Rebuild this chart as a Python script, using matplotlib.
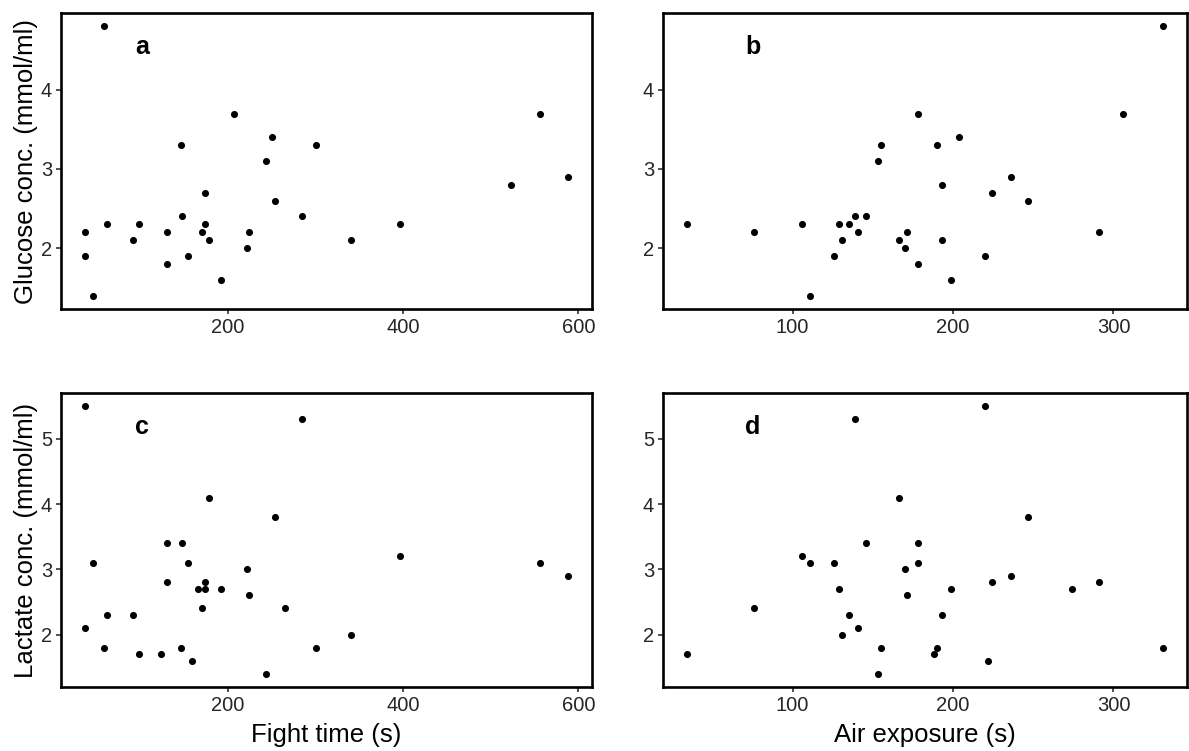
import matplotlib
matplotlib.use('Agg')
import matplotlib.pyplot as plt

plt.rcParams['font.family'] = ['Liberation Sans', 'DejaVu Sans']

# Fight time (s) vs glucose (panel a)
fight_glu = [59, 37, 37, 46, 62, 92, 99, 131, 131, 146, 148, 154, 174, 174, 170,
             178, 192, 207, 224, 222, 243, 250, 254, 285, 300, 340, 396, 523, 556, 588]
glucose_a = [4.8, 2.2, 1.9, 1.4, 2.3, 2.1, 2.3, 2.2, 1.8, 3.3, 2.4, 1.9, 2.7, 2.3, 2.2,
             2.1, 1.6, 3.7, 2.2, 2.0, 3.1, 3.4, 2.6, 2.4, 3.3, 2.1, 2.3, 2.8, 3.7, 2.9]

# Air exposure (s) vs glucose (panel b)
air_glu = [34, 76, 106, 111, 126, 129, 131, 135, 139, 141, 146, 153, 155, 166, 171,
           170, 178, 178, 190, 193, 193, 199, 204, 220, 224, 236, 247, 291, 306, 331]
glucose_b = [2.3, 2.2, 2.3, 1.4, 1.9, 2.3, 2.1, 2.3, 2.4, 2.2, 2.4, 3.1, 3.3, 2.1, 2.2,
             2.0, 3.7, 1.8, 3.3, 2.8, 2.1, 1.6, 3.4, 1.9, 2.7, 2.9, 2.6, 2.2, 3.7, 4.8]

# Fight time (s) vs lactate (panel c)
fight_lac = [37, 285, 46, 178, 254, 131, 148, 154, 131, 174, 166, 174, 192, 222, 224, 170,
             265, 62, 92, 37, 59, 99, 124, 146, 159, 243, 300, 340, 396, 556, 588]
lactate_c = [5.5, 5.3, 3.1, 4.1, 3.8, 3.4, 3.4, 3.1, 2.8, 2.8, 2.7, 2.7, 2.7, 3.0, 2.6, 2.4,
             2.4, 2.3, 2.3, 2.1, 1.8, 1.7, 1.7, 1.8, 1.6, 1.4, 1.8, 2.0, 3.2, 3.1, 2.9]

# Air exposure (s) vs lactate (panel d)
air_lac = [34, 76, 106, 111, 126, 129, 131, 135, 139, 141, 146, 153, 155, 166, 170,
           171, 178, 178, 188, 190, 193, 199, 220, 222, 224, 236, 247, 274, 291, 331]
lactate_d = [1.7, 2.4, 3.2, 3.1, 3.1, 2.7, 2.0, 2.3, 5.3, 2.1, 3.4, 1.4, 1.8, 4.1, 3.0,
             2.6, 3.4, 3.1, 1.7, 1.8, 2.3, 2.7, 5.5, 1.6, 2.8, 2.9, 3.8, 2.7, 2.8, 1.8]

W, H = 1189, 751
fig = plt.figure(figsize=(W / 100, H / 100), dpi=100)


def px_axes(left, top, right, bottom):
    return fig.add_axes([left / W, 1 - bottom / H, (right - left) / W, (bottom - top) / H])


panels = [
    (px_axes(61, 13, 592, 309), fight_glu, glucose_a, 'a', [200, 400, 600], [2, 3, 4]),
    (px_axes(663, 13, 1187, 309), air_glu, glucose_b, 'b', [100, 200, 300], [2, 3, 4]),
    (px_axes(61, 393, 592, 687), fight_lac, lactate_c, 'c', [200, 400, 600], [2, 3, 4, 5]),
    (px_axes(663, 393, 1187, 687), air_lac, lactate_d, 'd', [100, 200, 300], [2, 3, 4, 5]),
]

for ax, x, y, letter, xt, yt in panels:
    ax.scatter(x, y, s=26, color='black', linewidths=0, zorder=3)
    ax.margins(0.05)
    ax.set_xticks(xt)
    ax.set_yticks(yt)
    for sp in ax.spines.values():
        sp.set_linewidth(1.9)
        sp.set_color('black')
    ax.tick_params(length=3.5, width=1.1, color='#222222', labelsize=14.5,
                   labelcolor='#262626', pad=3)
    fx = 0.153 if letter in 'ac' else 0.172
    ax.text(fx, 0.885, letter, transform=ax.transAxes, fontsize=18,
            fontweight='bold', ha='center', va='center')

panels[0][0].set_ylabel('Glucose conc. (mmol/ml)', fontsize=18.5, labelpad=2)
panels[2][0].set_ylabel('Lactate conc. (mmol/ml)', fontsize=18.5, labelpad=2)
panels[2][0].set_xlabel('Fight time (s)', fontsize=18.5, labelpad=6)
panels[3][0].set_xlabel('Air exposure (s)', fontsize=18.5, labelpad=6)

fig.savefig('out.png', dpi=100)
plt.close(fig)
